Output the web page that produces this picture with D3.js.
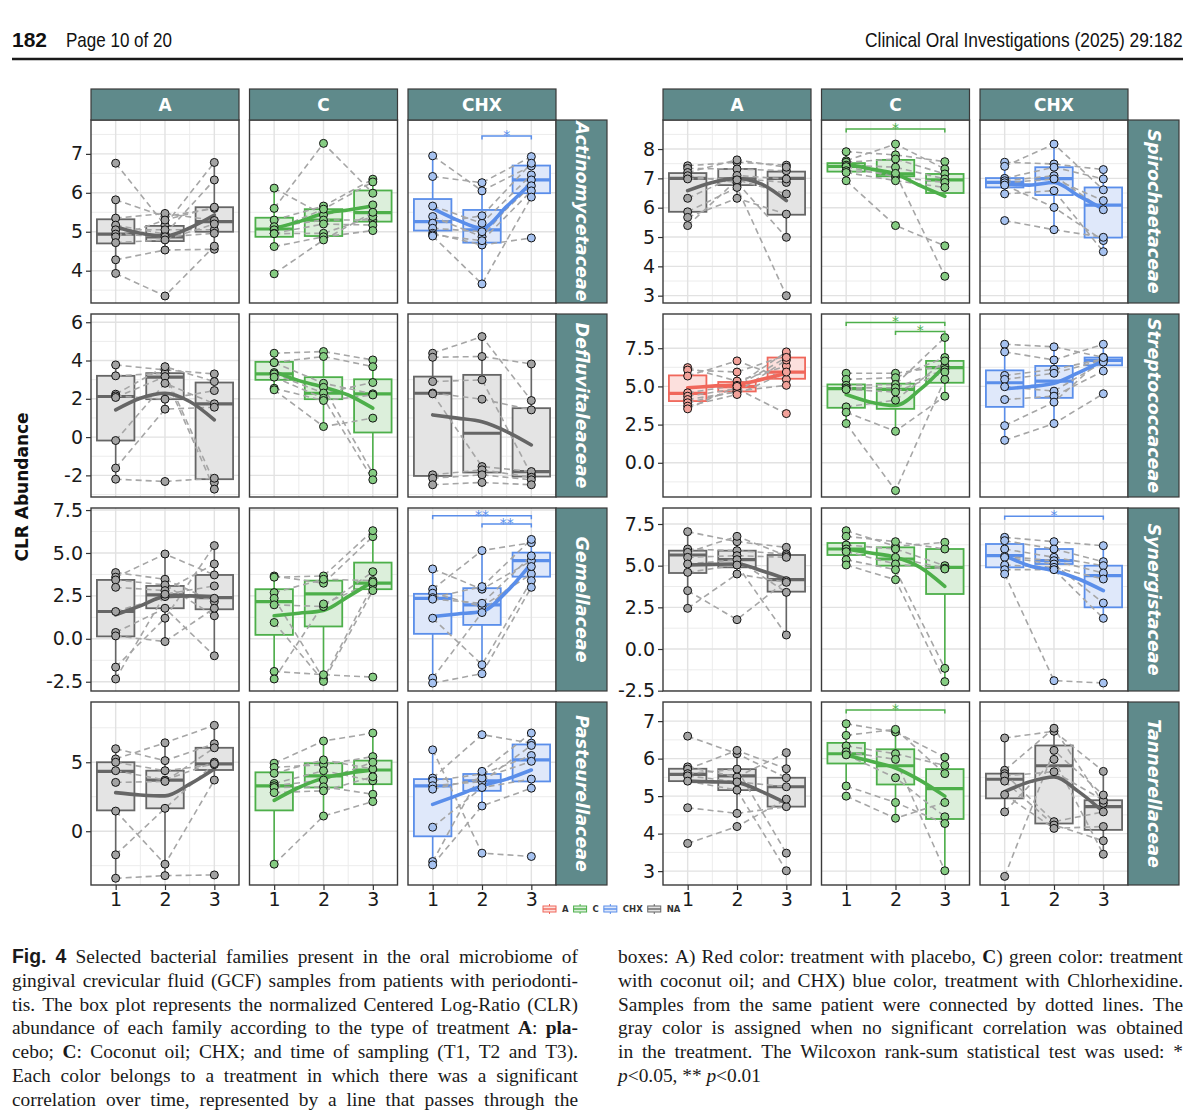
<!DOCTYPE html>
<html>
<head>
<meta charset="utf-8">
<script src="https://cdn.jsdelivr.net/npm/d3@7"></script>
<style>
  body { margin: 0; background: #fff; }
  svg { display: block; }
  .tick text { font-family: "DejaVu Sans", sans-serif; font-size: 19px; fill: #1a1a1a; }
  .tick line { stroke: #333; stroke-width: 1.2; }
</style>
</head>
<body>
<svg id="fig" width="1200" height="1114"></svg>
<script>
// Fig. 4: CLR abundance per family, treatment and sampling time

// Families in drawing order: left block rows 1-4, then right block rows 1-4
var families = ["Actinomycetaceae", "Defluvitaleaceae", "Gemellaceae", "Pasteurellaceae",
  "Spirochaetaceae", "Streptococcaceae", "Synergistaceae", "Tannerellaceae"];
var treatments = ["A", "C", "CHX"];
var times = [1, 2, 3];
var smoothX = [1, 1.5, 2, 2.5, 3];
var legendKeys = ["A", "C", "CHX", "NA"];

// y limits and tick labels of each family row
var yDomains = [[3.17, 7.87], [-3.13, 6.43], [-3.04, 7.62], [-3.9, 9.37],
  [2.75, 8.99], [-2.24, 9.74], [-2.52, 8.46], [2.63, 7.51]];
var yTicks = [[4, 5, 6, 7], [-2, 0, 2, 4, 6], [-2.5, 0, 2.5, 5, 7.5], [0, 5],
  [3, 4, 5, 6, 7, 8], [0, 2.5, 5, 7.5], [-2.5, 0, 2.5, 5, 7.5], [3, 4, 5, 6, 7]];

// colour group of each panel (NA = no significant trend)
var colourGroups = [["NA", "C", "CHX"], ["NA", "C", "NA"], ["NA", "C", "CHX"], ["NA", "C", "CHX"],
  ["NA", "C", "CHX"], ["A", "C", "CHX"], ["NA", "C", "CHX"], ["NA", "C", "NA"]];

// patients: [T1, T2, T3] for each patient, grouped by treatment A / C / CHX
var actinoPatients = [
  [[6.76, 5.17, 6.78], [5.82, 5.39, 5.6], [5.35, 5.47, 5.29], [5.17, 4.94, 6.33], [5.05, 5.05, 5.05],
   [4.94, 4.87, 4.96], [4.87, 5.3, 5.63], [4.72, 4.79, 5.2], [4.28, 4.53, 4.55], [3.93, 3.35, 4.63]],
  [[6.12, 5.43, 5.69], [5.6, 7.27, 5.99], [5.3, 5.66, 6.35], [5.13, 5.3, 5.3], [5.05, 5.58, 6.28],
   [4.96, 5.2, 5.17], [4.95, 4.96, 5.39], [4.62, 4.87, 5.03], [3.92, 4.79, 5.5]],
  [[6.95, 6.05, 6.69], [6.42, 6.26, 6.93], [5.66, 5.22, 6.46], [5.39, 4.87, 6.33], [5.22, 5.41, 6.76],
   [5.09, 5.0, 6.18], [4.96, 4.66, 4.84], [4.92, 4.77, 6.05], [4.89, 3.66, 5.89]]
];
var defluvPatients = [
  [[3.77, 3.51, 3.3], [3.2, 3.34, -2.37], [2.24, 3.68, 2.9], [2.15, 1.98, 2.43], [2.07, 3.16, -2.72],
   [-0.18, 2.81, 1.74], [-1.62, 1.46, 1.56], [-2.2, -2.32, -2.15]],
  [[4.38, 4.47, 4.03], [3.9, 4.21, 3.68], [3.89, 2.81, 2.26], [3.37, 2.6, -1.89], [3.3, 2.3, 2.85],
   [3.13, 2.03, -2.23], [2.55, 1.91, 2.2], [2.47, 0.55, 0.99]],
  [[4.38, 5.25, 1.91], [4.17, 4.21, 3.82], [2.9, 2.99, -1.97], [2.3, 1.98, 1.42], [2.26, -1.54, -1.8],
   [-1.97, -1.71, -2.1], [-2.15, -1.97, -2.23], [-2.49, -2.37, -2.49]]
];
var gemellaPatients = [
  [[3.86, 3.47, 2.17], [3.59, 4.94, 3.72], [3.43, 3.14, 1.34], [3.0, 2.81, 4.36], [1.59, 2.46, 2.36],
   [0.37, 1.78, -0.99], [0.17, -0.16, 1.78], [-1.65, 1.2, 5.43], [-2.34, 2.6, 3.08]],
  [[3.66, 3.24, 5.95], [3.59, 3.66, 6.3], [2.69, 3.47, 3.39], [2.36, -2.34, 3.14], [1.98, 1.88, 3.91],
   [0.95, -2.48, 2.81], [-1.9, -2.09, -2.23], [-2.34, 2.03, 3.3]],
  [[4.07, 2.89, 4.55], [2.89, 5.14, 5.6], [2.66, 1.88, 3.78], [2.4, 3.04, 5.79], [2.31, 2.07, 4.83],
   [1.2, -1.51, 3.39], [-2.29, 1.53, 4.21], [-2.58, -2.03, 3.0]]
];
var pasteurPatients = [
  [[5.98, 5.12, 6.34], [5.24, 6.41, 7.68], [5.0, 4.39, 4.83], [4.39, 3.71, 5.0], [3.54, 3.61, 6.05],
   [1.46, -2.39, 3.71], [-1.71, 1.66, 4.9], [-3.41, -3.22, -3.17]],
  [[4.93, 6.54, 7.12], [4.63, 4.83, 5.41], [4.2, 5.17, 4.51], [3.46, 4.39, 3.66], [3.3, 3.71, 5.0],
   [3.17, 3.22, 2.68], [2.8, 2.93, 3.95], [-2.39, 1.1, 2.15]],
  [[5.9, -1.59, -1.83], [3.85, 7.0, 6.39], [3.66, 4.15, 5.49], [3.3, 3.6, 6.22], [3.05, 3.85, 5.07],
   [0.29, 3.17, 3.78], [-2.2, 4.34, 7.12], [-2.44, 1.83, 3.12]]
];
var spiroPatients = [
  [[7.43, 7.55, 7.45], [7.34, 7.32, 7.26], [7.2, 7.63, 7.38], [7.09, 6.86, 4.99], [6.98, 7.0, 6.86],
   [6.32, 7.1, 6.98], [5.86, 6.69, 3.0], [5.67, 6.32, 5.78], [5.39, 6.95, 6.47]],
  [[7.91, 7.8, 7.57], [7.6, 8.17, 7.32], [7.55, 7.66, 7.15], [7.45, 7.38, 6.98], [7.4, 7.05, 6.86],
   [7.26, 7.17, 3.66], [7.2, 6.92, 6.69], [6.92, 5.39, 4.7]],
  [[7.55, 7.49, 7.3], [7.41, 8.17, 6.61], [7.0, 7.38, 6.98], [6.92, 7.09, 5.93], [6.85, 6.98, 6.24],
   [6.77, 6.01, 4.88], [6.47, 6.58, 4.5], [5.56, 5.25, 4.99]]
];
var strepPatients = [
  [[6.23, 5.35, 6.34], [6.07, 5.94, 7.04], [5.68, 6.67, 5.46], [4.58, 5.07, 7.26], [4.36, 4.85, 3.22],
   [4.14, 4.63, 6.73], [3.93, 4.7, 5.07], [3.71, 4.47, 5.94], [3.53, 5.0, 6.9]],
  [[5.86, 5.86, 6.34], [5.46, 5.57, 6.89], [5.07, 5.13, 8.2], [4.9, 4.91, 6.1], [4.8, 4.63, 5.94],
   [3.66, 4.1, 6.67], [3.31, 2.06, 4.36], [2.57, -1.82, 5.46]],
  [[7.76, 7.59, 6.9], [7.26, 6.73, 7.76], [5.72, 6.12, 6.8], [5.46, 5.86, 6.73], [4.98, 4.69, 6.6],
   [4.14, 4.36, 6.01], [2.43, 3.97, 6.89], [1.47, 2.57, 4.52]]
];
var synergPatients = [
  [[7.04, 6.44, 6.1], [6.0, 5.9, 5.7], [5.8, 6.76, 5.6], [5.5, 5.6, 5.5], [5.1, 5.36, 3.4],
   [4.6, 5.04, 0.84], [3.5, 1.76, 4.1], [2.44, 4.5, 4.0]],
  [[7.1, 6.16, 6.4], [6.76, 6.44, 6.0], [6.24, 6.0, 5.0], [6.0, 5.5, 4.84], [5.84, 5.1, 4.8],
   [5.36, 4.76, -1.16], [5.04, 4.16, -1.96]],
  [[6.7, 6.44, 6.2], [6.5, 6.0, 5.24], [6.0, 5.5, 5.0], [5.56, 5.3, 4.56], [5.5, 5.1, 2.76],
   [5.04, 4.9, 4.2], [4.76, 4.76, 1.84], [4.5, -1.9, -2.04]]
];
var tannPatients = [
  [[6.6, 6.13, 5.49], [5.78, 5.51, 6.16], [5.72, 6.22, 5.73], [5.6, 5.72, 3.48], [5.54, 5.38, 5.25],
   [5.4, 5.16, 3.01], [4.69, 4.54, 4.72], [3.74, 4.19, 4.92]],
  [[6.93, 6.71, 6.04], [6.62, 6.78, 5.6], [6.34, 6.13, 5.82], [6.18, 5.98, 3.01], [6.1, 5.49, 4.45],
   [5.27, 4.83, 4.27], [5.0, 4.41, 4.83]],
  [[6.55, 6.73, 5.66], [5.69, 6.81, 4.81], [5.6, 4.32, 4.58], [5.54, 5.65, 4.89], [5.4, 4.23, 3.81],
   [5.04, 4.14, 4.19], [4.58, 5.98, 3.45], [2.86, 6.22, 5.03]]
];

// boxes: [lower whisker, Q1, median, Q3, upper whisker] at T1, T2, T3, per treatment
var actinoBoxes = [
  [[3.93, 4.70, 4.94, 5.32, 5.82], [4.53, 4.76, 4.87, 5.15, 5.47], [4.55, 5.0, 5.26, 5.63, 6.78]],
  [[4.62, 4.87, 5.07, 5.36, 6.12], [4.79, 4.89, 5.3, 5.58, 5.66], [5.03, 5.26, 5.49, 6.06, 6.35]],
  [[4.89, 5.03, 5.26, 5.84, 6.95], [3.66, 4.72, 5.05, 5.56, 6.26], [5.89, 5.99, 6.33, 6.70, 6.93]]
];
var defluvBoxes = [
  [[-2.2, -0.18, 2.12, 3.2, 3.77], [1.46, 1.98, 3.13, 3.34, 3.68], [-2.72, -2.2, 1.74, 2.85, 3.3]],
  [[2.47, 2.99, 3.3, 3.93, 4.38], [0.55, 1.98, 2.29, 3.13, 4.47], [-2.23, 0.24, 2.26, 3.02, 4.03]],
  [[-2.49, -2.03, 2.29, 3.16, 4.38], [-2.37, -1.85, 0.2, 3.25, 5.25], [-2.49, -2.06, -1.8, 1.51, 3.82]]
];
var gemellaBoxes = [
  [[-2.34, 0.14, 1.59, 3.43, 3.86], [-0.16, 1.78, 2.56, 3.08, 4.94], [-0.99, 1.72, 2.4, 3.72, 5.43]],
  [[-2.34, 0.23, 2.17, 2.89, 3.66], [-2.48, 0.72, 2.62, 3.39, 3.66], [2.81, 2.89, 3.24, 4.44, 6.3]],
  [[-2.58, 0.29, 2.36, 2.62, 4.07], [-2.03, 0.81, 1.98, 2.95, 5.14], [3.0, 3.62, 4.55, 5.02, 5.79]]
];
var pasteurBoxes = [
  [[-3.41, 1.51, 4.34, 5.0, 5.98], [-3.22, 1.66, 3.71, 4.39, 6.41], [3.71, 4.44, 4.88, 6.05, 7.68]],
  [[-2.39, 1.51, 3.29, 4.27, 4.93], [1.1, 3.17, 4.02, 4.93, 6.54], [2.15, 3.41, 4.44, 5.12, 7.12]],
  [[-2.44, -0.37, 3.29, 3.78, 5.9], [1.83, 2.93, 3.66, 4.15, 4.34], [3.12, 3.61, 5.17, 6.29, 7.12]]
];
var spiroBoxes = [
  [[5.39, 5.86, 7.0, 7.18, 7.43], [6.32, 6.77, 6.98, 7.32, 7.63], [4.99, 5.76, 7.0, 7.23, 7.45]],
  [[6.92, 7.23, 7.41, 7.52, 7.91], [6.92, 7.07, 7.15, 7.63, 8.17], [6.5, 6.5, 6.95, 7.15, 7.57]],
  [[6.47, 6.69, 6.86, 7.01, 7.55], [5.25, 6.43, 6.99, 7.38, 8.17], [4.5, 4.98, 6.09, 6.69, 7.3]]
];
var strepBoxes = [
  [[3.53, 4.04, 4.54, 5.72, 6.23], [4.47, 4.67, 4.98, 5.29, 5.94], [5.07, 5.5, 5.94, 6.89, 7.26]],
  [[2.57, 3.6, 4.85, 5.13, 5.86], [2.06, 3.53, 4.8, 5.18, 5.86], [4.36, 5.24, 6.23, 6.67, 8.2]],
  [[1.47, 3.66, 5.24, 6.05, 7.76], [2.57, 4.25, 5.35, 6.34, 7.59], [6.01, 6.38, 6.71, 6.89, 7.76]]
];
var synergBoxes = [
  [[2.44, 4.56, 5.64, 5.9, 7.04], [4.5, 4.9, 5.36, 5.9, 6.76], [0.84, 3.44, 4.16, 5.64, 6.1]],
  [[5.04, 5.64, 6.0, 6.36, 7.1], [4.16, 5.0, 5.4, 6.1, 6.44], [-1.96, 3.3, 4.9, 6.0, 6.4]],
  [[4.5, 4.9, 5.6, 6.3, 6.7], [4.76, 5.1, 5.3, 6.0, 6.44], [1.84, 2.5, 4.4, 5.0, 6.2]]
];
var tannBoxes = [
  [[5.4, 5.4, 5.58, 5.73, 5.78], [4.54, 5.16, 5.54, 5.72, 6.22], [4.72, 4.72, 5.25, 5.49, 6.16]],
  [[5.27, 5.87, 6.13, 6.42, 6.93], [4.41, 5.31, 5.81, 6.25, 6.78], [3.01, 4.39, 5.2, 5.72, 6.04]],
  [[4.58, 4.94, 5.45, 5.6, 6.55], [4.14, 4.27, 5.81, 6.35, 6.81], [3.45, 4.1, 4.72, 4.89, 5.66]]
];

// smooth trend read at x = 1, 1.5, 2, 2.5, 3 for A / C / CHX
var actinoSmooth = [[5.13, 4.96, 4.89, 5.1, 5.43], [5.09, 5.26, 5.47, 5.56, 5.66], [5.6, 5.3, 5.09, 5.65, 6.25]];
var defluvSmooth = [[1.42, 2.03, 2.29, 1.86, 0.9], [3.42, 2.95, 2.61, 2.2, 1.51], [1.16, 0.99, 0.8, 0.29, -0.41]];
var gemellaSmooth = [[1.4, 1.92, 2.46, 2.5, 2.46], [1.34, 1.49, 1.65, 2.46, 3.33], [1.3, 1.45, 1.59, 2.75, 4.4]];
var pasteurSmooth = [[2.8, 2.63, 2.56, 3.41, 4.51], [2.24, 3.17, 3.85, 4.2, 4.44], [1.95, 2.6, 3.29, 3.78, 4.44]];
var spiroSmooth = [[6.58, 6.86, 7.0, 6.8, 6.24], [7.49, 7.32, 7.15, 6.75, 6.39], [6.8, 6.77, 6.86, 6.4, 5.95]];
var strepSmooth = [[4.91, 5.02, 5.13, 5.46, 5.86], [4.47, 3.97, 3.75, 4.8, 6.34], [4.85, 4.98, 5.2, 5.9, 6.67]];
var synergSmooth = [[5.04, 5.08, 5.1, 4.7, 4.2], [6.0, 5.76, 5.5, 4.9, 3.76], [5.6, 5.0, 4.7, 4.2, 3.5]];
var tannSmooth = [[5.4, 5.38, 5.36, 5.12, 4.81], [6.09, 5.93, 5.75, 5.42, 5.0], [5.12, 5.38, 5.51, 5.12, 4.58]];

// Wilcoxon brackets: [family, treatment, from time, to time, bracket height, label]
var sigBars = [
  [0, 2, 2, 3, 7.46, "*"],
  [2, 2, 1, 3, 7.17, "**"], [2, 2, 2, 3, 6.69, "**"],
  [4, 1, 1, 3, 8.68, "*"],
  [5, 1, 1, 3, 9.19, "*"], [5, 1, 2, 3, 8.6, "*"],
  [6, 2, 1, 3, 7.96, "*"],
  [7, 1, 1, 3, 7.3, "*"]
];

var patientSets = [actinoPatients, defluvPatients, gemellaPatients, pasteurPatients,
  spiroPatients, strepPatients, synergPatients, tannPatients];
var boxSets = [actinoBoxes, defluvBoxes, gemellaBoxes, pasteurBoxes,
  spiroBoxes, strepBoxes, synergBoxes, tannBoxes];
var smoothSets = [actinoSmooth, defluvSmooth, gemellaSmooth, pasteurSmooth,
  spiroSmooth, strepSmooth, synergSmooth, tannSmooth];

// caption text; ~sans bold~, {serif bold}, ^italic^
var captionLeft = [
  "~Fig.~ ~4~ Selected bacterial families present in the oral microbiome of",
  "gingival crevicular fluid (GCF) samples from patients with periodonti-",
  "tis. The box plot represents the normalized Centered Log-Ratio (CLR)",
  "abundance of each family according to the type of treatment {A}: {pla-}",
  "cebo; {C}: Coconut oil; CHX; and time of sampling (T1, T2 and T3).",
  "Each color belongs to a treatment in which there was a significant",
  "correlation over time, represented by a line that passes through the"
];
var captionRight = [
  "boxes: A) Red color: treatment with placebo, {C}) green color: treatment",
  "with coconut oil; and CHX) blue color, treatment with Chlorhexidine.",
  "Samples from the same patient were connected by dotted lines. The",
  "gray color is assigned when no significant correlation was obtained",
  "in the treatment. The Wilcoxon rank-sum statistical test was used: *",
  "^p^<0.05, ** ^p^<0.01"
];

// ---- styles and layout ----
var palette = {
  A:   { line: "#F0675B", fill: "#FCE0DD", point: "#F2A199" },
  C:   { line: "#4DAF4A", fill: "#DCEFDB", point: "#85CC82" },
  CHX: { line: "#5A8EEA", fill: "#DFE8FA", point: "#A6C2F0" },
  NA:  { line: "#666666", fill: "#E4E4E4", point: "#A3A3A3" }
};
var stripFill = "#5F8A8B";
var blockLeft = [91, 663];
var panelW = 148, colGap = 10.5, panelH = 183, stripW = 51;
var rowTops = [120, 314, 508, 702];
var stripTop = 89;
var boxHalf = 0.38;

var svg = d3.select("#fig");
svg.append("rect").attr("width", 1200).attr("height", 1114).attr("fill", "#fff");

// page header: condensed look by squeezing the text horizontally
function headerText(str, x0, width, bold) {
  var t = svg.append("text").attr("x", 0).attr("y", 0)
    .style("font-family", "'Liberation Sans', sans-serif")
    .style("font-weight", bold ? "bold" : "normal").style("font-size", "20px")
    .attr("fill", "#111").text(str);
  var w = t.node().getComputedTextLength();
  t.attr("transform", "translate(" + x0 + ",47) scale(" + (width / w) + ",1)");
}
headerText("182", 12, 35, true);
headerText("Page 10 of 20", 66, 106, false);
headerText("Clinical Oral Investigations (2025) 29:182", 865, 318, false);
svg.append("line").attr("x1", 12).attr("x2", 1183).attr("y1", 59).attr("y2", 59)
  .attr("stroke", "#1a1a1a").attr("stroke-width", 2.5);

// y axis title
svg.append("text")
  .attr("transform", "translate(22,487) rotate(-90)")
  .attr("text-anchor", "middle").attr("dominant-baseline", "central")
  .style("font-family", "'DejaVu Sans', sans-serif").style("font-weight", "bold")
  .style("font-size", "17px").attr("fill", "#111").text("CLR Abundance");

var patientLine = d3.line().defined(function(d) { return d[1] != null; });

families.forEach(function(fam, f) {
  var block = Math.floor(f / 4), row = f % 4;
  var top = rowTops[row];
  var y = d3.scaleLinear().domain(yDomains[f]).range([top + panelH, top]);
  var ticks = yTicks[f];
  var step = ticks[1] - ticks[0];
  var minorY = ticks.map(function(t) { return t - step / 2; })
    .concat([ticks[ticks.length - 1] + step / 2])
    .filter(function(v) { return v >= yDomains[f][0] && v <= yDomains[f][1]; });
  var decimals = ticks.some(function(t) { return t % 1 !== 0; });
  var minorX = d3.pairs(times).map(function(p) { return (p[0] + p[1]) / 2; });

  treatments.forEach(function(tr, t) {
    var left = blockLeft[block] + t * (panelW + colGap);
    var x = d3.scaleLinear().domain([0.5, 3.5]).range([left, left + panelW]);
    var col = palette[colourGroups[f][t]];
    var g = svg.append("g");

    g.append("rect").attr("x", left).attr("y", top).attr("width", panelW).attr("height", panelH)
      .attr("fill", "#fff");

    // grid
    g.selectAll(".gy-minor").data(minorY).enter().append("line")
      .attr("x1", left).attr("x2", left + panelW)
      .attr("y1", function(d) { return y(d); }).attr("y2", function(d) { return y(d); })
      .attr("stroke", "#ececec").attr("stroke-width", 1);
    g.selectAll(".gx-minor").data(minorX).enter().append("line")
      .attr("y1", top).attr("y2", top + panelH)
      .attr("x1", function(d) { return x(d); }).attr("x2", function(d) { return x(d); })
      .attr("stroke", "#ececec").attr("stroke-width", 1);
    g.selectAll(".gy").data(ticks).enter().append("line")
      .attr("x1", left).attr("x2", left + panelW)
      .attr("y1", function(d) { return y(d); }).attr("y2", function(d) { return y(d); })
      .attr("stroke", "#e2e2e2").attr("stroke-width", 1.4);
    g.selectAll(".gx").data(times).enter().append("line")
      .attr("y1", top).attr("y2", top + panelH)
      .attr("x1", function(d) { return x(d); }).attr("x2", function(d) { return x(d); })
      .attr("stroke", "#e2e2e2").attr("stroke-width", 1.4);

    // boxes
    var boxes = boxSets[f][t];
    boxes.forEach(function(b, i) {
      var cx = x(times[i]);
      g.append("line").attr("x1", cx).attr("x2", cx).attr("y1", y(b[0])).attr("y2", y(b[1]))
        .attr("stroke", col.line).attr("stroke-width", 1.6);
      g.append("line").attr("x1", cx).attr("x2", cx).attr("y1", y(b[3])).attr("y2", y(b[4]))
        .attr("stroke", col.line).attr("stroke-width", 1.6);
      g.append("rect")
        .attr("x", x(times[i] - boxHalf)).attr("width", x(times[i] + boxHalf) - x(times[i] - boxHalf))
        .attr("y", y(b[3])).attr("height", y(b[1]) - y(b[3]))
        .attr("fill", col.fill).attr("stroke", col.line).attr("stroke-width", 1.8);
      g.append("line").attr("x1", x(times[i] - boxHalf)).attr("x2", x(times[i] + boxHalf))
        .attr("y1", y(b[2])).attr("y2", y(b[2]))
        .attr("stroke", col.line).attr("stroke-width", 3.2);
    });

    // patient trajectories
    var patients = patientSets[f][t];
    patients.forEach(function(p) {
      g.append("path")
        .attr("d", patientLine(p.map(function(v, i) { return [x(times[i]), v == null ? null : y(v)]; })))
        .attr("fill", "none").attr("stroke", "#a6a6a6").attr("stroke-width", 1.6)
        .attr("stroke-dasharray", "6,4");
    });

    // smooth trend
    var smooth = d3.line()
      .x(function(d, i) { return x(smoothX[i]); })
      .y(function(d) { return y(d); })
      .curve(d3.curveMonotoneX);
    g.append("path").datum(smoothSets[f][t]).attr("d", smooth)
      .attr("fill", "none").attr("stroke", col.line).attr("stroke-width", 3.6)
      .attr("stroke-linecap", "round");

    // points
    patients.forEach(function(p) {
      p.forEach(function(v, i) {
        if (v == null) return;
        g.append("circle").attr("cx", x(times[i])).attr("cy", y(v)).attr("r", 4)
          .attr("fill", col.point).attr("stroke", "#111").attr("stroke-width", 1);
      });
    });

    // significance brackets
    sigBars.filter(function(s) { return s[0] === f && s[1] === t; }).forEach(function(s) {
      var by = y(s[4]);
      g.append("path")
        .attr("d", "M" + x(s[2]) + "," + (by + 3.5) + "V" + by + "H" + x(s[3]) + "V" + (by + 3.5))
        .attr("fill", "none").attr("stroke", col.line).attr("stroke-width", 1.5);
      g.append("text").attr("x", (x(s[2]) + x(s[3])) / 2).attr("y", by + 4)
        .attr("text-anchor", "middle")
        .style("font-family", "'DejaVu Sans', sans-serif").style("font-size", "14px")
        .attr("fill", col.line).text(s[5]);
    });

    // panel border
    g.append("rect").attr("x", left).attr("y", top).attr("width", panelW).attr("height", panelH)
      .attr("fill", "none").attr("stroke", "#3a3a3a").attr("stroke-width", 1.4);

    // column strip
    if (row === 0) {
      svg.append("rect").attr("x", left).attr("y", stripTop).attr("width", panelW)
        .attr("height", top - stripTop).attr("fill", stripFill)
        .attr("stroke", "#3a3a3a").attr("stroke-width", 1.2);
      svg.append("text").attr("x", left + panelW / 2).attr("y", (stripTop + top) / 2)
        .attr("text-anchor", "middle").attr("dominant-baseline", "central")
        .style("font-family", "'DejaVu Sans', sans-serif").style("font-weight", "bold")
        .style("font-size", "17px").attr("fill", "#fff").text(tr);
    }

    // row strip
    if (t === 2) {
      svg.append("rect").attr("x", left + panelW).attr("y", top).attr("width", stripW)
        .attr("height", panelH).attr("fill", stripFill)
        .attr("stroke", "#3a3a3a").attr("stroke-width", 1.2);
      svg.append("text")
        .attr("transform", "translate(" + (left + panelW + stripW / 2) + "," + (top + panelH / 2) + ") rotate(90)")
        .attr("text-anchor", "middle").attr("dominant-baseline", "central")
        .style("font-family", "'DejaVu Sans', sans-serif").style("font-weight", "bold")
        .style("font-style", "italic").style("font-size", "17.5px").attr("fill", "#fff").text(fam);
    }

    // y axis on the first column
    if (t === 0) {
      var ya = g.append("g").attr("transform", "translate(" + left + ",0)")
        .call(d3.axisLeft(y).tickValues(ticks).tickSize(5)
          .tickFormat(function(d) { return decimals ? d.toFixed(1) : String(d); }));
      ya.select(".domain").remove();
    }

    // x axis on the bottom row
    if (row === 3) {
      var xa = g.append("g").attr("transform", "translate(0," + (top + panelH) + ")")
        .call(d3.axisBottom(x).tickValues(times).tickSize(5).tickFormat(d3.format("d")));
      xa.select(".domain").remove();
    }
  });
});

// legend
var legend = svg.append("g");
var lx = 543, ly = 909;
legendKeys.forEach(function(k) {
  var col = palette[k];
  var cx = lx + 6.5;
  legend.append("line").attr("x1", cx).attr("x2", cx).attr("y1", ly - 5).attr("y2", ly + 5)
    .attr("stroke", col.line).attr("stroke-width", 1);
  legend.append("rect").attr("x", lx).attr("y", ly - 3).attr("width", 13).attr("height", 6)
    .attr("fill", col.fill).attr("stroke", col.line).attr("stroke-width", 1);
  legend.append("line").attr("x1", lx).attr("x2", lx + 13).attr("y1", ly).attr("y2", ly)
    .attr("stroke", col.line).attr("stroke-width", 1.4);
  var txt = legend.append("text").attr("x", lx + 19).attr("y", ly).attr("dominant-baseline", "central")
    .style("font-family", "'DejaVu Sans', sans-serif").style("font-weight", "bold")
    .style("font-size", "8.5px").attr("fill", "#333").text(k);
  lx = lx + 19 + txt.node().getComputedTextLength() + 5;
});

// caption, justified word by word
function segments(word) {
  var out = [], re = /~([^~]+)~|\{([^}]+)\}|\^([^\^]+)\^|([^~{\^]+)/g, m;
  while ((m = re.exec(word))) {
    if (m[1]) out.push({ text: m[1], kind: "sans" });
    else if (m[2]) out.push({ text: m[2], kind: "bold" });
    else if (m[3]) out.push({ text: m[3], kind: "italic" });
    else out.push({ text: m[4], kind: "plain" });
  }
  return out;
}

function captionLine(str, x0, yb, width, justify) {
  var words = str.split(" ");
  var nodes = words.map(function(w) {
    var t = svg.append("text").attr("y", yb)
      .style("font-family", "'Liberation Serif', 'Times New Roman', serif")
      .style("font-size", "19.4px").attr("fill", "#1a1a1a");
    segments(w).forEach(function(s) {
      var ts = t.append("tspan").text(s.text);
      if (s.kind === "sans") ts.style("font-family", "'Liberation Sans', sans-serif").style("font-weight", "bold");
      if (s.kind === "bold") ts.style("font-weight", "bold");
      if (s.kind === "italic") ts.style("font-style", "italic");
    });
    return t;
  });
  var widths = nodes.map(function(n) { return n.node().getComputedTextLength(); });
  var gap = justify ? (width - d3.sum(widths)) / (words.length - 1) : 4.8;
  var cx = x0;
  nodes.forEach(function(n, i) { n.attr("x", cx); cx += widths[i] + gap; });
}

captionLeft.forEach(function(line, i) {
  captionLine(line, 12, 963 + i * 23.8, 566, true);
});
captionRight.forEach(function(line, i) {
  captionLine(line, 618, 963 + i * 23.8, 565, i < captionRight.length - 1);
});
</script>
</body>
</html>
